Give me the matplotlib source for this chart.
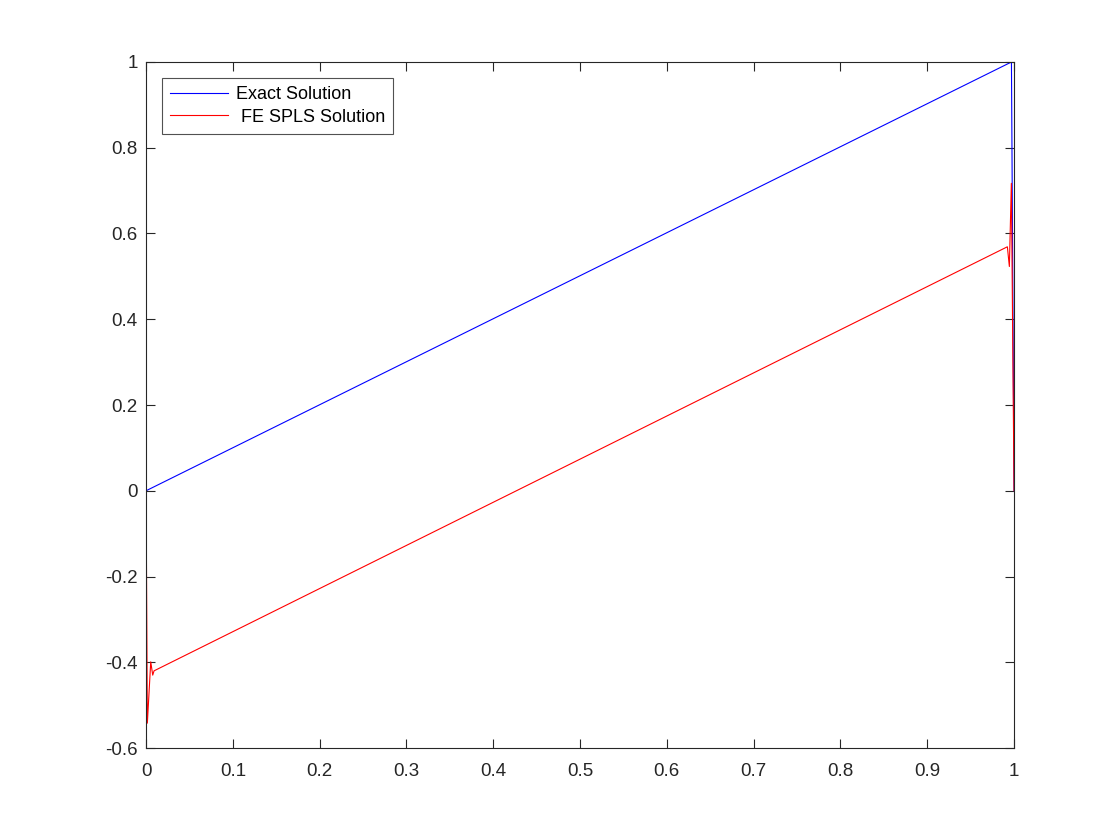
import numpy as np
import matplotlib.pyplot as plt

plt.rcParams['font.family'] = ['Liberation Sans', 'DejaVu Sans']

# exact solution: straight line with a thin boundary layer at x = 1
x_exact = [0.0, 0.997, 1.0]
u_exact = [0.0, 1.0, 0.0]

# FE SPLS solution: shifted line with oscillations at both ends
x_fe = [0.0, 0.0015, 0.0054, 0.0077, 0.0092, 0.9923, 0.9946, 0.9969, 1.0]
u_fe = [0.0, -0.542, -0.399, -0.430, -0.420, 0.569, 0.523, 0.717, 0.0]

fig = plt.figure(figsize=(11.2, 8.4), dpi=100)
ax = fig.add_axes([0.1304, 0.1095, 0.775, 0.8167])
ax.plot(x_exact, u_exact, color='#0000ff', linewidth=0.8, label='Exact Solution')
ax.plot(x_fe, u_fe, color='#ff0000', linewidth=0.8, label=' FE SPLS Solution')

ax.set_xlim(0, 1)
ax.set_ylim(-0.6, 1)
ax.set_xticks(np.arange(0, 1.01, 0.1))
ax.set_xticklabels(['0', '0.1', '0.2', '0.3', '0.4', '0.5', '0.6', '0.7', '0.8', '0.9', '1'])
ax.set_yticks(np.arange(-0.6, 1.01, 0.2))
ax.set_yticklabels(['-0.6', '-0.4', '-0.2', '0', '0.2', '0.4', '0.6', '0.8', '1'])
ax.tick_params(direction='in', length=6.5, width=0.8, top=True, right=True,
               labelsize=13.5, colors='#262626', labelcolor='#262626')
ax.tick_params(axis='x', pad=11)
ax.tick_params(axis='y', pad=6)
for s in ax.spines.values():
    s.set_linewidth(0.8)
    s.set_color('#262626')

leg = ax.legend(loc='upper left', fontsize=13, frameon=True, fancybox=False,
                edgecolor='#262626', borderpad=0.45, handlelength=3.2,
                labelspacing=0.32, handletextpad=0.45, borderaxespad=0.88)
leg.get_frame().set_linewidth(0.8)

fig.savefig('out.png', dpi=100)
